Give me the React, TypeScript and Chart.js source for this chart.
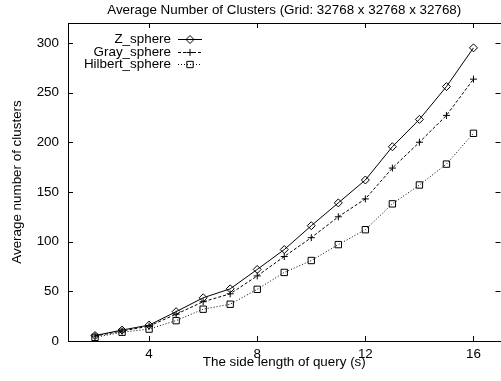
import React, { useEffect, useRef } from "react";
import { Chart, registerables } from "chart.js";
import { drawPoint } from "chart.js/helpers";

Chart.register(...registerables);

const chartTitle = "Average Number of Clusters (Grid: 32768 x 32768 x 32768)";
const xAxisTitle = "The side length of query (s)";
const yAxisTitle = "Average number of clusters";

const sideLengths = [2, 3, 4, 5, 6, 7, 8, 9, 10, 11, 12, 13, 14, 15, 16];
const zSphere = [5.5, 11, 16, 29.5, 43.5, 52.5, 72, 92, 116, 139, 162, 195.5, 223, 256, 295];
const graySphere = [5, 10, 15, 27, 39.5, 47.5, 65.5, 85, 104, 125, 143, 174, 200, 227, 263.5];
const hilbertSphere = [3.7, 8.8, 12, 20.5, 32, 37, 52, 69, 81, 97, 112, 138, 157, 178, 209];

const seriesLabels = ["Z_sphere", "Gray_sphere", "Hilbert_sphere"];
const xTickValues = [4, 8, 12, 16];
const yTickValues = [0, 50, 100, 150, 200, 250, 300];

const FONT = "'Liberation Sans', Arial, Helvetica, sans-serif";
const FS = 13.4;

const framePlugin = {
  id: "gnuplotFrame",
  afterDatasetsDraw(chart: any) {
    const { ctx, chartArea } = chart;
    const { left, right, top, bottom } = chartArea;
    const xs = chart.scales.x;
    const ys = chart.scales.y;
    ctx.save();
    ctx.strokeStyle = "#000";
    ctx.lineWidth = 1;
    ctx.setLineDash([]);
    ctx.strokeRect(Math.round(left) + 0.5, Math.round(top) + 0.5, Math.round(right - left), Math.round(bottom - top));
    const tl = 5;
    ctx.beginPath();
    xTickValues.forEach((v) => {
      const px = Math.round(xs.getPixelForValue(v)) + 0.5;
      ctx.moveTo(px, bottom);
      ctx.lineTo(px, bottom - tl);
      ctx.moveTo(px, top);
      ctx.lineTo(px, top + tl);
    });
    yTickValues.forEach((v) => {
      const py = Math.round(ys.getPixelForValue(v)) + 0.5;
      ctx.moveTo(left, py);
      ctx.lineTo(left + tl, py);
      ctx.moveTo(right, py);
      ctx.lineTo(right - tl, py);
    });
    ctx.stroke();

    // gnuplot style key
    ctx.font = `${FS}px ${FONT}`;
    ctx.textAlign = "right";
    ctx.textBaseline = "middle";
    chart.data.datasets.forEach((ds: any, i: number) => {
      const y = Math.round(top + 16 + i * 12.5) + 0.5;
      ctx.fillStyle = "#000";
      ctx.fillText(ds.label, left + 103, y);
      ctx.beginPath();
      ctx.setLineDash(ds.borderDash || []);
      ctx.moveTo(left + 110, y);
      ctx.lineTo(left + 134, y);
      ctx.stroke();
      ctx.setLineDash([]);
      ctx.fillStyle = "rgba(0,0,0,0)";
      drawPoint(ctx, {
        pointStyle: ds.pointStyle,
        radius: ds.pointRadius,
        rotation: 0,
        borderWidth: 1,
      } as any, left + 122, y);
    });
    ctx.restore();
  },
};

export default function App() {
  const ref = useRef<HTMLCanvasElement | null>(null);

  useEffect(() => {
    if (!ref.current) return;
    const mk = (vals: number[]) => sideLengths.map((x, i) => ({ x, y: vals[i] }));
    const common = {
      borderColor: "#000",
      borderWidth: 1,
      pointBorderColor: "#000",
      pointBackgroundColor: "rgba(0,0,0,0)",
      pointBorderWidth: 1,
      fill: false,
      tension: 0,
    };
    const chart = new Chart(ref.current, {
      type: "line",
      data: {
        datasets: [
          { ...common, label: seriesLabels[0], data: mk(zSphere), pointStyle: "rectRot", pointRadius: 4, borderDash: [] },
          { ...common, label: seriesLabels[1], data: mk(graySphere), pointStyle: "cross", pointRadius: 3.5, borderDash: [3, 2] },
          { ...common, label: seriesLabels[2], data: mk(hilbertSphere), pointStyle: "rect", pointRadius: 4.5, borderDash: [1, 2] },
        ] as any,
      },
      options: {
        animation: false,
        responsive: false,
        layout: { padding: { left: 0, right: 2, top: 0, bottom: 0 } },
        font: { family: FONT } as any,
        plugins: {
          legend: { display: false },
          tooltip: { enabled: false },
          title: {
            display: true,
            text: chartTitle,
            fullSize: false,
            color: "#000",
            font: { family: FONT, size: FS, weight: "normal" },
            padding: { top: 2, bottom: 4.92 },
          },
        },
        scales: {
          x: {
            type: "linear",
            min: 1,
            max: 17,
            grid: { display: false, drawTicks: false },
            border: { display: false },
            afterBuildTicks: (s: any) => {
              s.ticks = xTickValues.map((v) => ({ value: v }));
            },
            afterFit: (s: any) => {
              s.height = 40;
            },
            ticks: { color: "#000", font: { family: FONT, size: FS }, padding: 5, maxRotation: 0, autoSkip: false },
            title: {
              display: true,
              text: xAxisTitle,
              color: "#000",
              font: { family: FONT, size: FS },
              padding: { top: 0, bottom: 11 },
            },
          },
          y: {
            type: "linear",
            min: 0,
            max: 320,
            grid: { display: false, drawTicks: false },
            border: { display: false },
            afterBuildTicks: (s: any) => {
              s.ticks = yTickValues.map((v) => ({ value: v }));
            },
            afterFit: (s: any) => {
              s.width = 68;
            },
            ticks: { color: "#000", font: { family: FONT, size: FS }, padding: 9, autoSkip: false },
            title: {
              display: true,
              text: yAxisTitle,
              color: "#000",
              font: { family: FONT, size: FS },
              padding: { top: 9, bottom: 0 },
            },
          },
        },
      } as any,
      plugins: [framePlugin],
    });
    return () => chart.destroy();
  }, []);

  return (
    <div
      style={{
        position: "fixed",
        left: 0,
        top: 0,
        width: 501,
        height: 381,
        overflow: "hidden",
        background: "#fff",
      }}
    >
      <canvas ref={ref} width={506} height={381} style={{ display: "block" }} />
    </div>
  );
}
